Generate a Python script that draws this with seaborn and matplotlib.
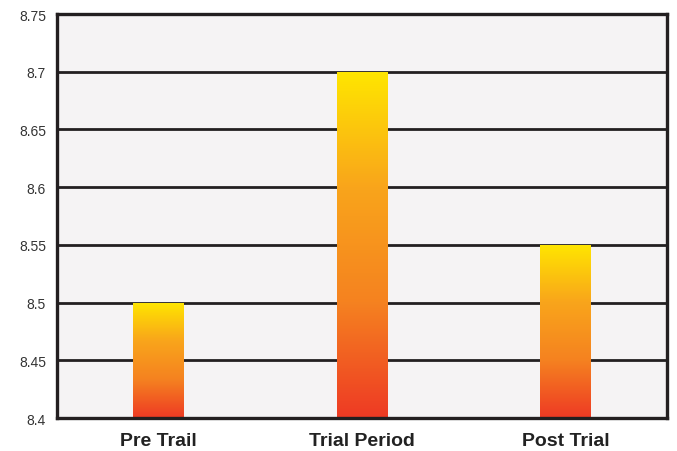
import numpy as np
import pandas as pd
import matplotlib
matplotlib.use("Agg")
import matplotlib.pyplot as plt
from matplotlib.colors import LinearSegmentedColormap
import seaborn as sns

categories = ["Pre Trail", "Trial Period", "Post Trial"]
values = [8.5, 8.7, 8.55]
y_ticks = [8.4, 8.45, 8.5, 8.55, 8.6, 8.65, 8.7, 8.75]
y_tick_labels = ["8.4", "8.45", "8.5", "8.55", "8.6", "8.65", "8.7", "8.75"]

sns.set_theme(style="white")
plt.rcParams["font.family"] = ["Liberation Sans Narrow", "Liberation Sans", "DejaVu Sans"]

fig = plt.figure(figsize=(6.77, 4.52), dpi=100)
fig.patch.set_facecolor("white")
ax = fig.add_axes([57 / 677, 33 / 452, 610 / 677, 404 / 452])
ax.set_facecolor("#f5f3f4")

df = pd.DataFrame({"period": categories, "score": values})
sns.barplot(data=df, x="period", y="score", ax=ax, width=0.25,
            color="#f7941d", saturation=1, zorder=3)

ax.set_ylim(8.4, 8.75)
ax.set_xlim(-0.5, 2.5)
ax.set_yticks(y_ticks)
ax.set_yticklabels(y_tick_labels, fontsize=10, color="#333333")
ax.set_xlabel("")
ax.set_ylabel("")
for lbl in ax.get_xticklabels():
    lbl.set_fontsize(14)
    lbl.set_fontweight("bold")
    lbl.set_color("#222222")
ax.tick_params(axis="y", length=0, pad=8)
ax.tick_params(axis="x", length=0, pad=10)

# horizontal grid lines
for t in y_ticks[1:-1]:
    ax.axhline(t, color="#231f20", lw=2.0, zorder=2)

for s in ax.spines.values():
    s.set_color("#231f20")
    s.set_linewidth(2.4)
    s.set_zorder(5)

# vertical yellow-to-red gradient fill on each bar
cmap = LinearSegmentedColormap.from_list(
    "heat", ["#ee3a24", "#f58220", "#f9a51b", "#ffe600"])
grad = np.linspace(0, 1, 256).reshape(-1, 1)
for patch in ax.patches:
    x0, y0 = patch.get_x(), patch.get_y()
    w, h = patch.get_width(), patch.get_height()
    y_lo = ax.get_ylim()[0]
    im = ax.imshow(grad, cmap=cmap, origin="lower", aspect="auto",
                   extent=[x0, x0 + w, y_lo, y0 + h], zorder=4)
    im.set_clip_path(patch)
    patch.set_facecolor("none")
    patch.set_edgecolor("none")

ax.set_xlim(-0.5, 2.5)
ax.set_ylim(8.4, 8.75)

fig.savefig("out.png", dpi=100, facecolor="white")
